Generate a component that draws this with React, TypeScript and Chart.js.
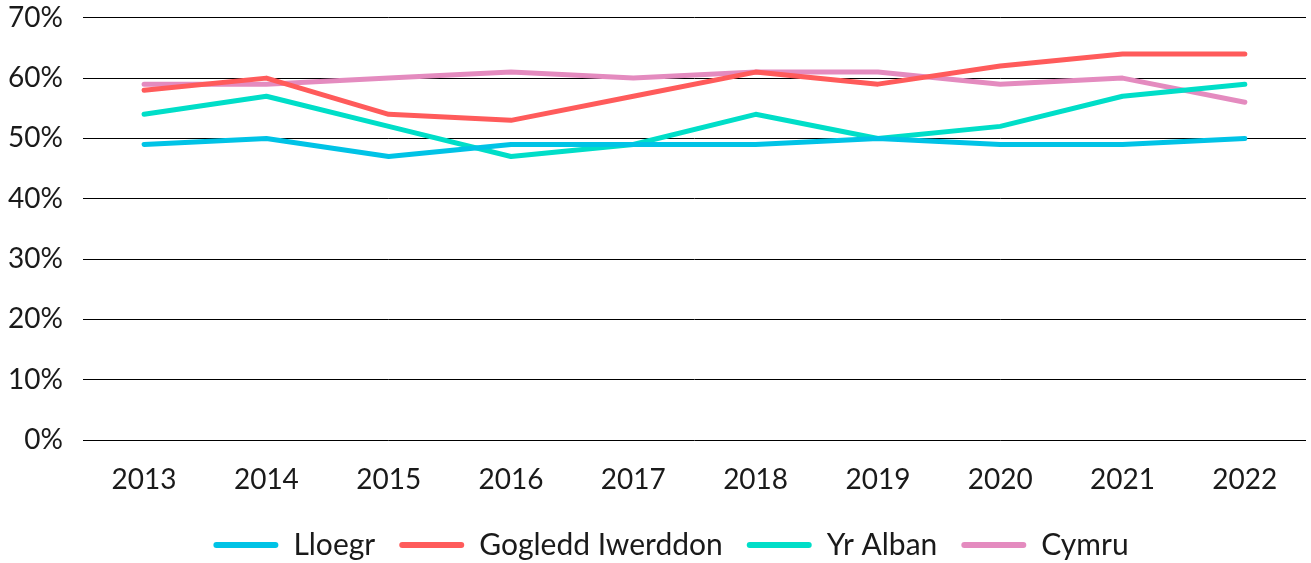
import React, { useEffect, useRef } from "react";
import { Chart, registerables } from "chart.js";

Chart.register(...registerables);

const years = ["2013", "2014", "2015", "2016", "2017", "2018", "2019", "2020", "2021", "2022"];
const lloegr = [49, 50, 47, 49, 49, 49, 50, 49, 49, 50];
const gogleddIwerddon = [58, 60, 54, 53, 57, 61, 59, 62, 64, 64];
const yrAlban = [54, 57, 52, 47, 49, 54, 50, 52, 57, 59];
const cymru = [59, 59, 60, 61, 60, 61, 61, 59, 60, 56];
const yTicks = [0, 10, 20, 30, 40, 50, 60, 70];

const FONT = "Lato, 'Open Sans', sans-serif";
const TXT = "#1a1a1a";

const legendShift = {
  id: "legendShift",
  afterLayout(chart: any) {
    if (chart.legend) {
      chart.legend.left += 24;
      chart.legend.right += 24;
    }
  },
};

export default function App() {
  const ref = useRef<HTMLCanvasElement | null>(null);
  useEffect(() => {
    if (!ref.current) return;
    const mk = (label: string, data: number[], color: string) => ({
      label,
      data,
      borderColor: color,
      backgroundColor: color,
      borderWidth: 5,
      pointRadius: 0,
      tension: 0,
      borderCapStyle: "round" as const,
      borderJoinStyle: "round" as const,
    });
    const chart = new Chart(ref.current, {
      type: "line",
      plugins: [legendShift],
      data: {
        labels: years,
        datasets: [
          mk("Lloegr", lloegr, "#00C3E6"),
          mk("Gogledd Iwerddon", gogleddIwerddon, "#FF5B5B"),
          mk("Yr Alban", yrAlban, "#00DEC8"),
          mk("Cymru", cymru, "#E48BBF"),
        ],
      },
      options: {
        animation: false,
        responsive: true,
        maintainAspectRatio: false,
        layout: { padding: { top: 0, right: 5, left: 0, bottom: 0 } },
        plugins: {
          tooltip: { enabled: false },
          legend: {
            position: "bottom",
            labels: {
              font: { family: FONT, size: 30 },
              color: TXT,
              boxWidth: 65,
              boxHeight: 6,
              padding: 24,
              generateLabels: (c: any) =>
                c.data.datasets.map((d: any, i: number) => ({
                  text: d.label,
                  fillStyle: d.borderColor,
                  strokeStyle: d.borderColor,
                  lineWidth: 0,
                  borderRadius: 3,
                  hidden: false,
                  datasetIndex: i,
                  fontColor: TXT,
                })),
            },
          },
        },
        scales: {
          x: {
            offset: true,
            grid: { display: false, drawTicks: false },
            border: { display: false },
            ticks: { font: { family: FONT, size: 28 }, color: TXT, padding: 23 },
            afterFit: (scale: any) => {
              scale.height = 66;
            },
          },
          y: {
            min: 0,
            max: 70,
            afterBuildTicks: (axis: any) => {
              axis.ticks = yTicks.map((v) => ({ value: v }));
            },
            grid: { color: "#000000", lineWidth: 1, drawTicks: false },
            border: { display: false },
            ticks: {
              font: { family: FONT, size: 28 },
              color: TXT,
              padding: 20,
              callback: (v: any) => v + "%",
            },
          },
        },
      },
    });
    return () => chart.destroy();
  }, []);
  return (
    <div style={{ position: "absolute", left: -12, top: -19, width: 1323, height: 589 }}>
      <canvas ref={ref} />
    </div>
  );
}
